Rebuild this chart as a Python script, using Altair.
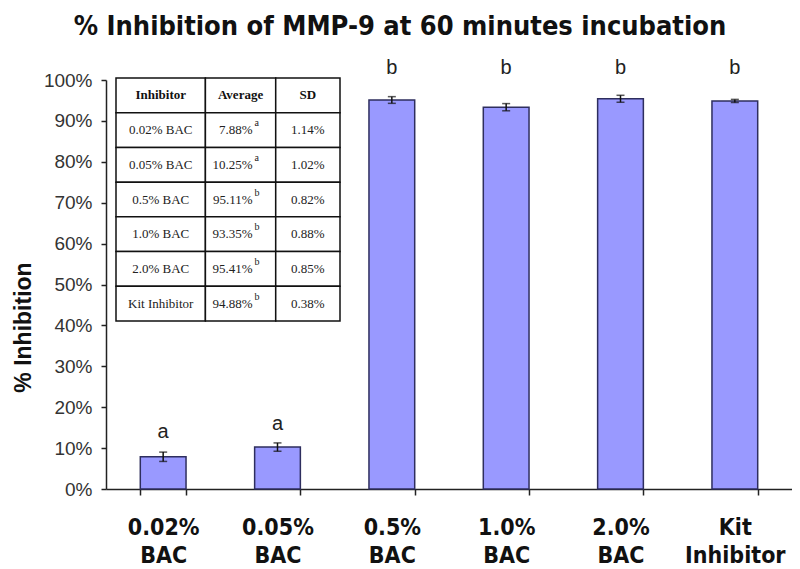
import altair as alt
import pandas as pd

# ---- data ----
categories = ["0.02% BAC", "0.05% BAC", "0.5% BAC", "1.0% BAC", "2.0% BAC", "Kit Inhibitor"]
means = [7.88, 10.25, 95.11, 93.35, 95.41, 94.88]
sds = [1.14, 1.02, 0.82, 0.88, 0.85, 0.38]
letters = ["a", "a", "b", "b", "b", "b"]
letter_y = [14, 16, 103, 103, 103, 103]

table_header = ["Inhibitor", "Average", "SD"]
table_names = ["0.02% BAC", "0.05% BAC", "0.5% BAC", "1.0% BAC", "2.0% BAC", "Kit Inhibitor"]
table_avg = ["7.88%", "10.25%", "95.11%", "93.35%", "95.41%", "94.88%"]
table_sup = ["a", "a", "b", "b", "b", "b"]
table_sd = ["1.14%", "1.02%", "0.82%", "0.88%", "0.85%", "0.38%"]
col_edges = [0, 89, 159, 223]

df = pd.DataFrame({
    "cat": categories, "mean": means, "sd": sds,
    "lo": [m - s for m, s in zip(means, sds)],
    "hi": [m + s for m, s in zip(means, sds)],
    "letter": letters, "ly": letter_y,
})

W, H = 686, 409
NARROW = "Liberation Sans Narrow, Arial Narrow, DejaVu Sans Condensed, sans-serif"
SANS = "Liberation Sans, Arial, sans-serif"
SERIF = "Liberation Serif, Times New Roman, serif"

xenc = alt.X("cat:N", sort=categories, title=None,
             scale=alt.Scale(paddingInner=0.6, paddingOuter=0.3),
             axis=alt.Axis(labelAngle=0, labelExpr="split(datum.label, ' ')",
                           labelFont=NARROW, labelFontWeight="bold", labelFontSize=23,
                           labelLineHeight=28, labelPadding=21, labelColor="#111",
                           tickBand="extent", ticks=True, tickSize=6, tickColor="#222",
                           tickWidth=1.5, domainColor="#222", domainWidth=1.5))
yscale = alt.Scale(domain=[0, 100], nice=False)

bars = alt.Chart(df).mark_bar(color="#9999FF", stroke="#2E2E5E", strokeWidth=1.5).encode(
    x=xenc,
    y=alt.Y("mean:Q", scale=yscale, title="% Inhibition",
            axis=alt.Axis(values=list(range(0, 101, 10)), labelExpr="datum.value + '%'",
                          labelFont=SANS, labelFontSize=19, labelColor="#333",
                          labelPadding=9, tickSize=5, tickWidth=1.5, tickColor="#222",
                          domainColor="#222", domainWidth=1.5, grid=False,
                          titleFont=SANS, titleFontSize=23, titleFontWeight="bold",
                          titleColor="#111", titleX=-71, titleY=247, titleAngle=-90)),
)
rules = alt.Chart(df).mark_rule(color="#111", strokeWidth=1.5).encode(
    x=alt.X("cat:N", sort=categories), y=alt.Y("lo:Q", scale=yscale), y2="hi:Q")
cap_hi = alt.Chart(df).mark_tick(color="#111", size=8, thickness=1.5).encode(
    x=alt.X("cat:N", sort=categories), y=alt.Y("hi:Q", scale=yscale))
cap_lo = alt.Chart(df).mark_tick(color="#111", size=8, thickness=1.5).encode(
    x=alt.X("cat:N", sort=categories), y=alt.Y("lo:Q", scale=yscale))
lets = alt.Chart(df).mark_text(font=SANS, fontSize=20, color="#222", baseline="middle").encode(
    x=alt.X("cat:N", sort=categories), y=alt.Y("ly:Q", scale=yscale), text="letter:N")

main = alt.layer(bars, rules, cap_hi, cap_lo, lets)

# ---- inset table ----
cells = []
texts = []
for r in range(7):
    for c in range(3):
        cells.append({"x0": col_edges[c], "x1": col_edges[c + 1], "r0": r, "r1": r + 1})
for c in range(3):
    texts.append({"xc": (col_edges[c] + col_edges[c + 1]) / 2, "yc": 0.5, "t": table_header[c], "kind": "head"})
for i in range(6):
    texts.append({"xc": (col_edges[0] + col_edges[1]) / 2, "yc": i + 1.5, "t": table_names[i], "kind": "body"})
    texts.append({"xc": (col_edges[2] + col_edges[3]) / 2, "yc": i + 1.5, "t": table_sd[i], "kind": "body"})
avg_rows = pd.DataFrame({"xc": [(col_edges[1] + col_edges[2]) / 2] * 6,
                         "yc": [i + 1.5 for i in range(6)],
                         "t": table_avg, "s": table_sup})
cells = pd.DataFrame(cells)
texts = pd.DataFrame(texts)

tx = alt.Scale(domain=[0, col_edges[-1]], range=[10, 234])
ty = alt.Scale(domain=[0, 7], range=[-2, 241])

t_cells = alt.Chart(cells).mark_rect(fill="white", stroke="#111", strokeWidth=1.5).encode(
    x=alt.X("x0:Q", scale=tx, axis=None), x2="x1:Q",
    y=alt.Y("r0:Q", scale=ty, axis=None), y2="r1:Q")
t_head = alt.Chart(texts).transform_filter("datum.kind == 'head'").mark_text(
    font=SERIF, fontSize=13, fontWeight="bold", color="#111").encode(
    x=alt.X("xc:Q", scale=tx, axis=None), y=alt.Y("yc:Q", scale=ty, axis=None), text="t:N")
t_body = alt.Chart(texts).transform_filter("datum.kind == 'body'").mark_text(
    font=SERIF, fontSize=13, color="#222").encode(
    x=alt.X("xc:Q", scale=tx, axis=None), y=alt.Y("yc:Q", scale=ty, axis=None), text="t:N")
t_avg = alt.Chart(avg_rows).mark_text(font=SERIF, fontSize=13, color="#222", align="right", dx=12).encode(
    x=alt.X("xc:Q", scale=tx, axis=None), y=alt.Y("yc:Q", scale=ty, axis=None), text="t:N")
t_sup = alt.Chart(avg_rows).mark_text(font=SERIF, fontSize=10, color="#222", align="left", dx=14, dy=-7).encode(
    x=alt.X("xc:Q", scale=tx, axis=None), y=alt.Y("yc:Q", scale=ty, axis=None), text="s:N")

table = alt.layer(t_cells, t_head, t_body, t_avg, t_sup)

chart = alt.layer(main, table).resolve_scale(x="independent", y="independent").properties(
    width=W, height=H,
    autosize=alt.AutoSizeParams(type="none"),
    padding={"left": 98, "top": 72, "right": 0, "bottom": 80},
    title=alt.TitleParams("% Inhibition of MMP-9 at 60 minutes incubation",
                          font=NARROW, fontSize=27, fontWeight="bold", color="#111",
                          offset=17, dx=-49, anchor="middle"),
).configure_view(stroke=None)

chart.save("out.html", embed_options={"renderer": "svg", "actions": False})
